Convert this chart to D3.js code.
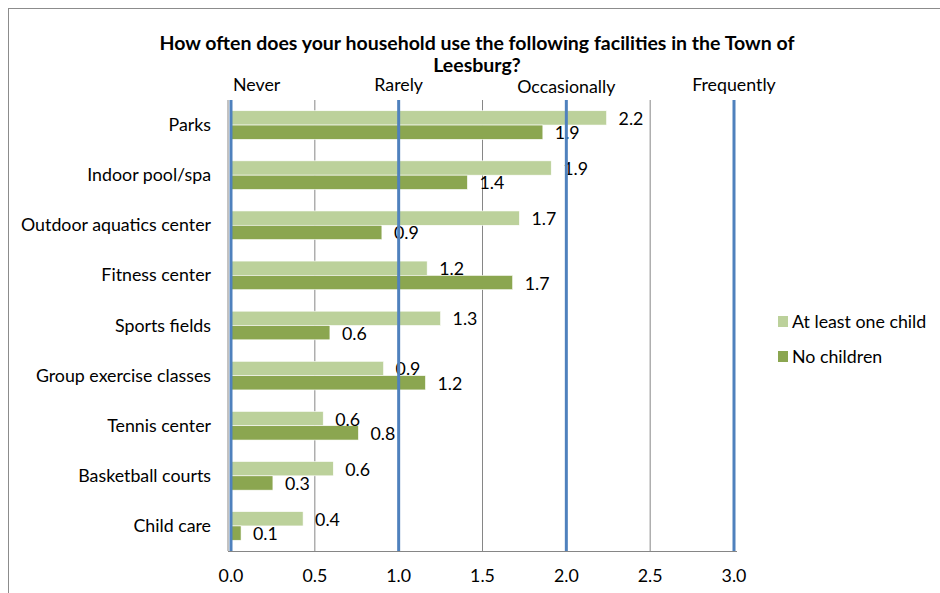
<!DOCTYPE html>
<html>
<head>
<meta charset="utf-8">
<script src="https://cdn.jsdelivr.net/npm/d3@7"></script>
<style>
  body { margin: 0; background: #fff; }
  text { font-family: Lato, "Open Sans", sans-serif; fill: #000; }
</style>
</head>
<body>
<svg id="chart" width="940" height="593"></svg>
<script>
(function () {
	// data
	let categories = ["Parks","Indoor pool/spa","Outdoor aquatics center","Fitness center","Sports fields","Group exercise classes","Tennis center","Basketball courts","Child care"];
	let atLeastOneChild = [2.24,1.91,1.72,1.17,1.25,0.91,0.55,0.61,0.43];
	let noChildren = [1.86,1.41,0.90,1.68,0.59,1.16,0.76,0.25,0.06];
	let seriesNames = ["At least one child","No children"];
	let xTicks = [0,0.5,1,1.5,2,2.5,3];
	let scaleLabels = ["Never","Rarely","Occasionally","Frequently"];
	let scaleValues = [0,1,2,3];

	let colors = {light:"#bcd19b", dark:"#8ba650", blue:"#4f81bd", grid:"#868686"};
	let fs = "17.8px";

	let svg = d3.select("#chart");

	// outer chart border
	svg.append("rect")
		.attr("x",8.5).attr("y",8.5)
		.attr("width",1000).attr("height",1000)
		.attr("fill","none").attr("stroke","#8c8c8c").attr("stroke-width",1);

	let x = d3.scaleLinear().domain([0,3]).range([231,734]);
	let y = d3.scaleBand().domain(categories).range([100,551]);
	let sub = d3.scaleBand().domain(seriesNames).range([0,y.bandwidth()]).paddingInner(0).paddingOuter(0.75);

	// title
	svg.append("text")
		.attr("x",477).attr("y",50)
		.attr("text-anchor","middle")
		.style("font-weight","bold").style("font-size","19.5px")
		.text("How often does your household use the following facilities in the Town of");
	svg.append("text")
		.attr("x",477).attr("y",72)
		.attr("text-anchor","middle")
		.style("font-weight","bold").style("font-size","19.5px")
		.text("Leesburg?");

	// gray gridlines at half steps
	svg.selectAll(".grid")
		.data(xTicks.filter(function(d){ return d%1!==0; }))
		.enter()
		.append("line")
		.attr("class","grid")
		.attr("x1",function(d){ return x(d); })
		.attr("x2",function(d){ return x(d); })
		.attr("y1",100).attr("y2",551)
		.attr("stroke",colors.grid).attr("stroke-width",1);

	// x axis baseline
	svg.append("line")
		.attr("x1",x(0)-3).attr("x2",x(3)+3)
		.attr("y1",551.5).attr("y2",551.5)
		.attr("stroke",colors.grid).attr("stroke-width",1);
	svg.append("line")
		.attr("x1",x(0)-3).attr("x2",x(0)-3)
		.attr("y1",100).attr("y2",551)
		.attr("stroke",colors.grid).attr("stroke-width",1);

	// bars
	let rows = categories.map(function(c,i){
		return {cat:c, vals:[{s:seriesNames[0],v:atLeastOneChild[i]},{s:seriesNames[1],v:noChildren[i]}]};
	});

	let g = svg.selectAll(".row")
		.data(rows)
		.enter()
		.append("g")
		.attr("class","row")
		.attr("transform",function(d){ return "translate(0,"+y(d.cat)+")"; });

	g.selectAll("rect")
		.data(function(d){ return d.vals; })
		.enter()
		.append("rect")
		.attr("x",x(0))
		.attr("y",function(d){ return sub(d.s); })
		.attr("width",function(d){ return x(d.v)-x(0); })
		.attr("height",sub.bandwidth())
		.attr("fill",function(d,i){ return i===0 ? colors.light : colors.dark; })
		.attr("stroke","#fff").attr("stroke-width",0.6);

	g.selectAll(".lbl")
		.data(function(d){ return d.vals; })
		.enter()
		.append("text")
		.attr("class","lbl")
		.attr("x",function(d){ return x(d.v)+12; })
		.attr("y",function(d){ return sub(d.s)+sub.bandwidth()/2+7; })
		.style("font-size",fs)
		.text(function(d){ return d.v.toFixed(1); });

	// blue lines at whole steps
	svg.selectAll(".major")
		.data(scaleValues)
		.enter()
		.append("line")
		.attr("class","major")
		.attr("x1",function(d){ return x(d); })
		.attr("x2",function(d){ return x(d); })
		.attr("y1",100).attr("y2",551)
		.attr("stroke",colors.blue).attr("stroke-width",3);

	// category labels
	svg.selectAll(".cat")
		.data(categories)
		.enter()
		.append("text")
		.attr("class","cat")
		.attr("x",211)
		.attr("y",function(d){ return y(d)+y.bandwidth()/2+6; })
		.attr("text-anchor","end")
		.style("font-size",fs)
		.text(function(d){ return d; });

	// bottom tick labels
	svg.selectAll(".tick")
		.data(xTicks)
		.enter()
		.append("text")
		.attr("class","tick")
		.attr("x",function(d){ return x(d); })
		.attr("y",582)
		.attr("text-anchor","middle")
		.style("font-size",fs)
		.text(function(d){ return d.toFixed(1); });

	// top scale labels
	svg.selectAll(".scale")
		.data(scaleLabels)
		.enter()
		.append("text")
		.attr("class","scale")
		.attr("x",function(d,i){ return i===0 ? x(scaleValues[i])+2 : x(scaleValues[i]); })
		.attr("y",function(d,i){ return i===2 ? 93 : 91; })
		.attr("text-anchor",function(d,i){ return i===0 ? "start" : "middle"; })
		.style("font-size",fs)
		.text(function(d){ return d; });

	// legend
	let leg = svg.selectAll(".leg")
		.data(seriesNames)
		.enter()
		.append("g")
		.attr("class","leg")
		.attr("transform",function(d,i){ return "translate(778,"+(316+i*35)+")"; });
	leg.append("rect")
		.attr("width",10).attr("height",11)
		.attr("fill",function(d,i){ return i===0 ? colors.light : colors.dark; });
	leg.append("text")
		.attr("x",14).attr("y",12)
		.style("font-size",fs)
		.text(function(d){ return d; });
})();
</script>
</body>
</html>
